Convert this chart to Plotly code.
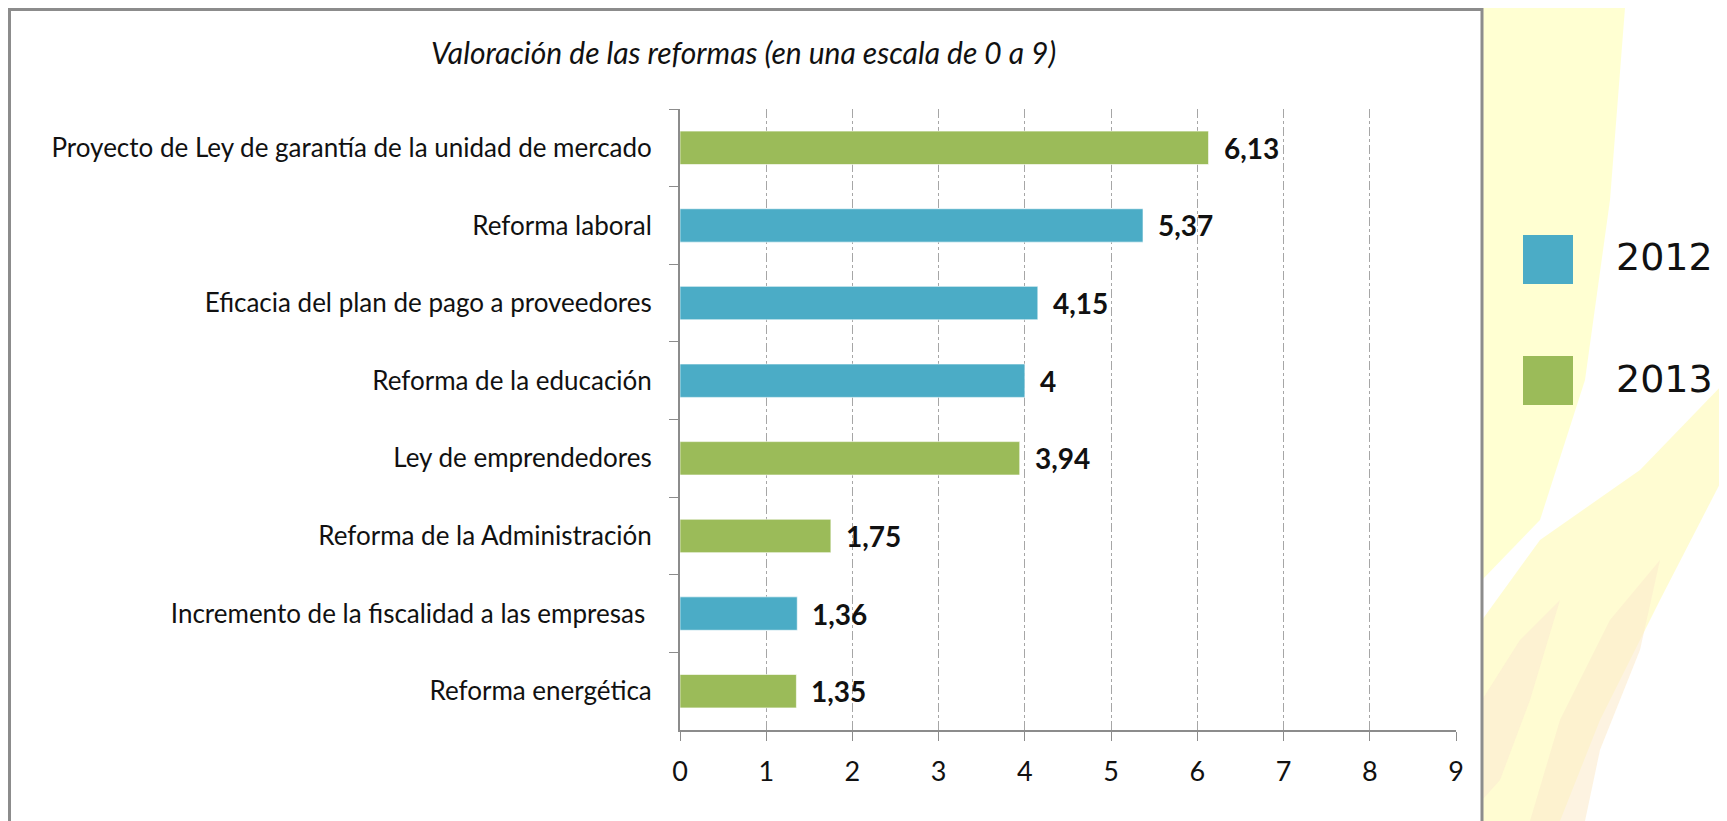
import plotly.graph_objects as go

categories = [
    "Proyecto de Ley de garantía de la unidad de mercado",
    "Reforma laboral",
    "Eficacia del plan de pago a proveedores",
    "Reforma de la educación",
    "Ley de emprendedores",
    "Reforma de la Administración",
    "Incremento de la fiscalidad a las empresas ",
    "Reforma energética",
]
values = [6.13, 5.37, 4.15, 4.00, 3.94, 1.75, 1.36, 1.35]
years = ["2013", "2012", "2012", "2012", "2013", "2013", "2012", "2013"]
value_labels = ["6,13", "5,37", "4,15", "4", "3,94", "1,75", "1,36", "1,35"]
series_names = ["2012", "2013"]
series_colors = {"2012": "#4BACC6", "2013": "#9BBB59"}
x_ticks = [0, 1, 2, 3, 4, 5, 6, 7, 8, 9]
title_text = "Valoración de las reformas (en una escala de 0 a 9)"

# window coordinates (page body has an 8px margin)
OFF = 8
WIN_W, WIN_H = 1727, 821
W, H = WIN_W - OFF, WIN_H - OFF
L, R, T, B = 680, 1456, 109, 730


def px(x):
    return (x - L) / (R - L)


def py(y):
    return (B - y) / (B - T)


def path(points):
    return "M " + " L ".join(f"{px(a):.5f},{py(b):.5f}" for a, b in points) + " Z"


FONT = "Lato"
fig = go.Figure()
for s in series_names:
    ys = [c for c, y in zip(categories, years) if y == s]
    xs = [v for v, y in zip(values, years) if y == s]
    fig.add_trace(go.Bar(
        x=xs, y=ys, orientation="h", name=s,
        marker=dict(color=series_colors[s], line=dict(color="rgba(255,255,255,0.6)", width=1)),
        showlegend=False, hoverinfo="x+y",
    ))

annotations = []
for c, v, t in zip(categories, values, value_labels):
    annotations.append(dict(
        x=v, y=c, xref="x", yref="y", text=f"<b>{t}</b>", showarrow=False,
        xanchor="left", yanchor="middle", xshift=13,
        font=dict(family=FONT, size=28, color="#111111"),
    ))

annotations.append(dict(
    x=px(743), y=py(52), xref="paper", yref="paper", text=f"<i>{title_text}</i>",
    showarrow=False, xanchor="center", yanchor="middle",
    font=dict(family=FONT, size=30, color="#111111"),
))

shapes = []
# background decoration (pale flame-like shapes)
deco = [
    ([(1482, 8), (1625, 8), (1610, 200), (1585, 380), (1540, 520), (1482, 580)], "rgba(255,255,205,0.9)"),
    ([(1482, 821), (1482, 620), (1540, 540), (1640, 470), (1727, 380), (1727, 470), (1660, 600), (1600, 720), (1560, 821)], "rgba(255,252,205,0.9)"),
    ([(1530, 821), (1560, 720), (1610, 620), (1660, 560), (1640, 650), (1600, 750), (1585, 821)], "rgba(252,235,205,0.6)"),
    ([(1482, 700), (1520, 640), (1560, 600), (1530, 700), (1500, 780), (1482, 800)], "rgba(252,232,210,0.5)"),
]
for pts, col in deco:
    shapes.append(dict(type="path", xref="paper", yref="paper", path=path(pts),
                       fillcolor=col, line=dict(width=0), layer="below"))

# chart box
shapes.append(dict(type="rect", xref="paper", yref="paper",
                   x0=px(9.5), x1=px(1482), y0=py(840), y1=py(9.5),
                   fillcolor="white", line=dict(color="#8C8C8C", width=3), layer="below"))

# legend (drawn manually)
leg_rows = [(series_names[0], 235, 284), (series_names[1], 356, 405)]
for name, y0, y1 in leg_rows:
    shapes.append(dict(type="rect", xref="paper", yref="paper",
                       x0=px(1523), x1=px(1573), y0=py(y1), y1=py(y0),
                       fillcolor=series_colors[name], line=dict(width=0)))
    annotations.append(dict(
        x=px(1614), y=py((y0 + y1) / 2 - 2), xref="paper", yref="paper", text=name,
        showarrow=False, xanchor="left", yanchor="middle",
        font=dict(family="DejaVu Sans", size=38, color="#111111"),
    ))

fig.update_layout(
    width=W, height=H,
    margin=dict(l=L - OFF, r=WIN_W - R, t=T - OFF, b=WIN_H - B, autoexpand=False),
    paper_bgcolor="white", plot_bgcolor="rgba(0,0,0,0)",
    barmode="overlay", bargap=0.57,
    shapes=shapes, annotations=annotations,
    xaxis=dict(
        range=[0, 9], tickvals=x_ticks, ticktext=[str(v) for v in x_ticks],
        showgrid=True, gridcolor="#A6A6A6", griddash="dashdot", gridwidth=1,
        showline=True, linecolor="#8C8C8C", linewidth=2,
        ticks="outside", ticklen=9, tickcolor="#8C8C8C", tickwidth=1,
        ticklabelstandoff=8,
        tickfont=dict(family=FONT, size=27, color="#111111"),
        zeroline=False, fixedrange=True,
    ),
    yaxis=dict(
        categoryorder="array", categoryarray=categories, autorange="reversed",
        showgrid=False, showline=True, linecolor="#8C8C8C", linewidth=2,
        ticks="outside", ticklen=9, tickcolor="#8C8C8C", tickwidth=1,
        tickson="boundaries", ticklabelstandoff=21,
        tickfont=dict(family=FONT, size=26, color="#111111"),
        fixedrange=True,
    ),
)

fig.write_html("out.html")
